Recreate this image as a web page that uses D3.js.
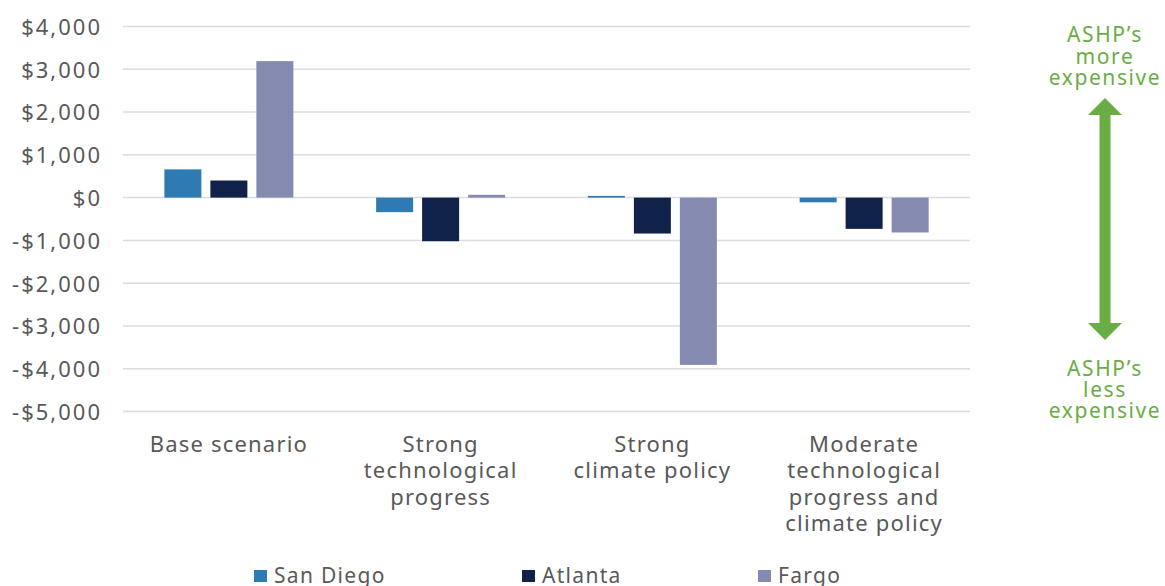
<!DOCTYPE html>
<html><head><meta charset="utf-8">
<script src="https://cdn.jsdelivr.net/npm/d3@7"></script>
<style>body{margin:0;background:#fff}svg{display:block}</style>
</head><body>
<svg id="c" width="1165" height="586"></svg>
<script>
const categories = [["Base scenario"],["Strong","technological","progress"],["Strong","climate policy"],["Moderate","technological","progress and","climate policy"]];
const series = ["San Diego","Atlanta","Fargo"];
const sanDiego = [660, -340, 40, -110];
const atlanta = [400, -1020, -840, -730];
const fargo = [3190, 65, -3910, -815];
const yTicks = [4000,3000,2000,1000,0,-1000,-2000,-3000,-4000,-5000];
const colors = ["#2e7ab3","#10224a","#858bb0"];
const values = [sanDiego, atlanta, fargo];

(function(){
const svg = d3.select("#c");
const font = "'Noto Sans', sans-serif";
const grey = "#595959";
const green = "#6aad45";

const y = d3.scaleLinear().domain([-5000,4000]).range([411.5,26.5]);
const x0 = d3.scaleBand().domain(d3.range(categories.length)).range([123,970]);
const bw = x0.bandwidth();
const x1 = d3.scaleBand().domain(d3.range(series.length)).range([(bw-129)/2,(bw+129)/2]).paddingInner(9/46).paddingOuter(0);

// gridlines
svg.append("g").selectAll("line").data(yTicks).join("line")
  .attr("x1",123).attr("x2",970).attr("y1",d=>y(d)).attr("y2",d=>y(d))
  .attr("stroke","#dcdcdc").attr("stroke-width",1.5);

// y axis
const fmt = d => (d<0?"-":"") + "$" + d3.format(",")(Math.abs(d));
const yAxis = d3.axisLeft(y).tickValues(yTicks).tickFormat(fmt).tickSize(0).tickPadding(0);
const ga = svg.append("g").attr("transform","translate(102,0)").call(yAxis);
ga.select(".domain").remove();
ga.selectAll("text").attr("font-family",font).attr("font-size",22).attr("letter-spacing",2).attr("fill",grey).attr("dy","0.36em");

// bars
const g = svg.append("g");
categories.forEach((c,ci)=>{
  series.forEach((s,si)=>{
    const v = values[si][ci];
    g.append("rect")
      .attr("x", x0(ci)+x1(si))
      .attr("width", x1.bandwidth())
      .attr("y", y(Math.max(0,v)))
      .attr("height", Math.max(1.5, Math.abs(y(v)-y(0))))
      .attr("fill", colors[si]);
  });
});

// category labels
categories.forEach((lines,ci)=>{
  const t = svg.append("text").attr("text-anchor","middle").attr("font-family",font).attr("font-size",22).attr("letter-spacing",1.2).attr("fill",grey);
  lines.forEach((l,li)=>{
    t.append("tspan").attr("x", x0(ci)+bw/2).attr("y", 451.5+li*26.5).text(l);
  });
});

// legend
const legX = [254, 522, 758];
series.forEach((s,si)=>{
  svg.append("rect").attr("x",legX[si]).attr("y",570).attr("width",13).attr("height",12).attr("fill",colors[si]);
  svg.append("text").attr("x",legX[si]+20).attr("y",582.5).attr("font-family",font).attr("font-size",21).attr("letter-spacing",1.3).attr("fill",grey).text(s);
});

// annotation
const ax = 1105;
const topText = ["ASHP\u2019s","more","expensive"];
const botText = ["ASHP\u2019s","less","expensive"];
const tt = svg.append("text").attr("text-anchor","middle").attr("font-family",font).attr("font-size",21).attr("letter-spacing",1.6).attr("fill",green);
topText.forEach((l,i)=>tt.append("tspan").attr("x",ax).attr("y",42+i*21.5).text(l));
const bt = svg.append("text").attr("text-anchor","middle").attr("font-family",font).attr("font-size",21).attr("letter-spacing",1.6).attr("fill",green);
botText.forEach((l,i)=>bt.append("tspan").attr("x",ax).attr("y",376+i*21).text(l));
const aTop = 98, aBot = 340, hw = 17, hh = 17, sw = 5.5;
svg.append("path").attr("fill",green).attr("d",
  `M${ax},${aTop} L${ax+hw},${aTop+hh} L${ax+sw},${aTop+hh} L${ax+sw},${aBot-hh} L${ax+hw},${aBot-hh} L${ax},${aBot} L${ax-hw},${aBot-hh} L${ax-sw},${aBot-hh} L${ax-sw},${aTop+hh} L${ax-hw},${aTop+hh} Z`);
})();
</script>
</body></html>
